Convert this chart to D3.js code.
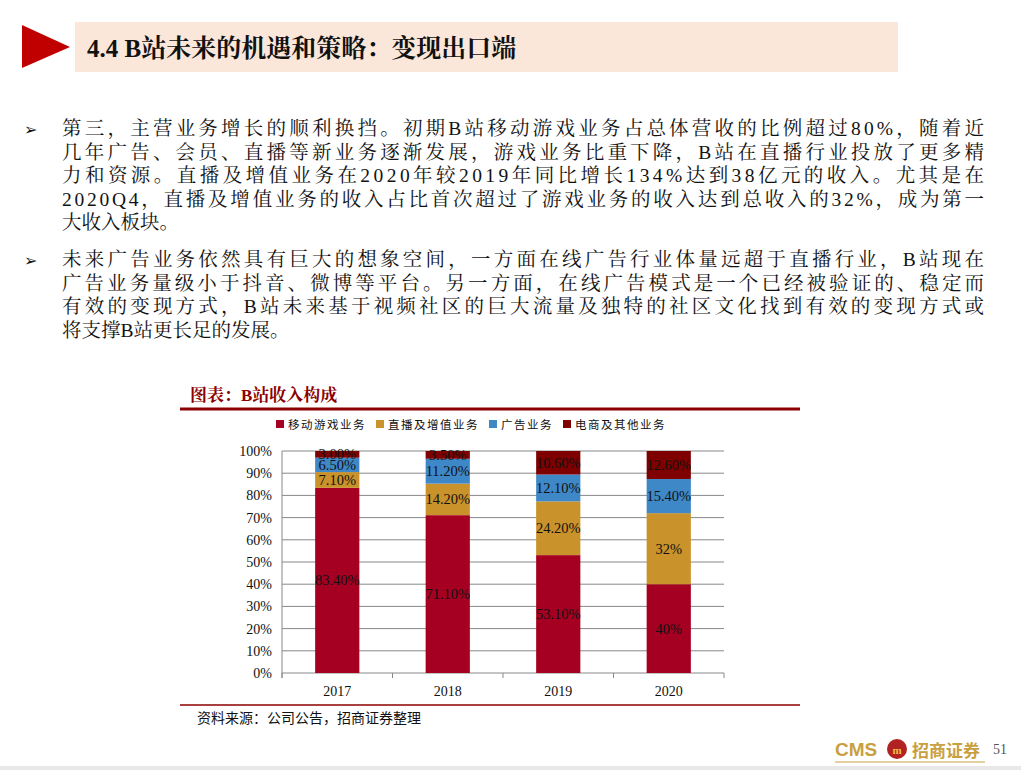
<!DOCTYPE html>
<html><head><meta charset="utf-8">
<script src="https://cdn.jsdelivr.net/npm/d3@7"></script>
<style>body{margin:0;background:#fff;}svg{display:block}</style>
</head><body>
<svg id="c" width="1021" height="770"></svg>
<script>
const years = ["2017","2018","2019","2020"];
const seriesNames = ["移动游戏业务","直播及增值业务","广告业务","电商及其他业务"];
const game = [83.4,71.1,53.1,40];
const live = [7.1,14.2,24.2,32];
const ads = [6.5,11.2,12.1,15.4];
const other = [3.0,3.5,10.6,12.6];
const labels = [["83.40%","71.10%","53.10%","40%"],["7.10%","14.20%","24.20%","32%"],["6.50%","11.20%","12.10%","15.40%"],["3.00%","3.50%","10.60%","12.60%"]];
const yTicks = [0,10,20,30,40,50,60,70,80,90,100];
const colors = ["#a50021","#c9922b","#3f88c8","#7f0000"];
const serif = "'Liberation Serif','Noto Serif CJK SC','Noto Sans CJK SC',serif";

const svg = d3.select("#c");
svg.append("rect").attr("x",75).attr("y",22).attr("width",823).attr("height",50).attr("fill","#fbe7da");
svg.append("path").attr("d","M22,25 L70,47 L22,68 Z").attr("fill","#c00000");
svg.append("text").attr("x",87).attr("y",57).attr("font-family",serif).attr("font-weight","bold").attr("font-size",25).attr("fill","#111").text("4.4 B站未来的机遇和策略：变现出口端");

const para1 = ["第三，主营业务增长的顺利换挡。初期B站移动游戏业务占总体营收的比例超过80%，随着近","几年广告、会员、直播等新业务逐渐发展，游戏业务比重下降，B站在直播行业投放了更多精","力和资源。直播及增值业务在2020年较2019年同比增长134%达到38亿元的收入。尤其是在","2020Q4，直播及增值业务的收入占比首次超过了游戏业务的收入达到总收入的32%，成为第一","大收入板块。"];
const para2 = ["未来广告业务依然具有巨大的想象空间，一方面在线广告行业体量远超于直播行业，B站现在","广告业务量级小于抖音、微博等平台。另一方面，在线广告模式是一个已经被验证的、稳定而","有效的变现方式，B站未来基于视频社区的巨大流量及独特的社区文化找到有效的变现方式或","将支撑B站更长足的发展。"];
function para(lines,y0){
  svg.append("text").attr("x",24).attr("y",y0).attr("font-size",16).attr("fill","#111").text("➢");
  lines.forEach((l,i)=>{const t=svg.append("text").attr("x",62).attr("y",y0+i*23.6).attr("font-family",serif).attr("font-size",19.5).attr("fill","#111").text(l); if(i<lines.length-1) t.attr("textLength",922);});
}
para(para1,135);
para(para2,266);

svg.append("text").attr("x",190).attr("y",401).attr("font-family",serif).attr("font-weight","bold").attr("font-size",17).attr("fill","#8b0000").text("图表：B站收入构成");
svg.append("line").attr("x1",180).attr("x2",800).attr("y1",409).attr("y2",409).attr("stroke","#8b0000").attr("stroke-width",3);

const lg = svg.append("g");
let lx=276;
seriesNames.forEach((n,i)=>{
  lg.append("rect").attr("x",lx).attr("y",420).attr("width",8).attr("height",8).attr("fill",colors[i]);
  const t=lg.append("text").attr("x",lx+12).attr("y",428.5).attr("font-size",11.5).attr("letter-spacing",1.5).attr("font-family","'Noto Sans CJK SC'").attr("fill","#111").text(n);
  lx += 12 + t.node().getComputedTextLength() + 10;
});

const x = d3.scaleBand().domain(years).range([282,724]).paddingInner(0.6).paddingOuter(0.3);
const y = d3.scaleLinear().domain([0,100]).range([673,451]);
yTicks.forEach(t=>{
  svg.append("line").attr("x1",282).attr("x2",724).attr("y1",y(t)).attr("y2",y(t)).attr("stroke","#888").attr("stroke-width",1);
  svg.append("text").attr("x",272).attr("y",y(t)+5).attr("text-anchor","end").attr("font-family",serif).attr("font-size",14).attr("fill","#111").text(t+"%");
});
svg.append("line").attr("x1",282).attr("x2",282).attr("y1",451).attr("y2",678).attr("stroke","#888");
const vals=[game,live,ads,other];
years.forEach((yr,i)=>{
  let base=0;
  vals.forEach((s,k)=>{
    const v=s[i];
    svg.append("rect").attr("x",x(yr)).attr("width",x.bandwidth()).attr("y",y(base+v)).attr("height",y(base)-y(base+v)).attr("fill",colors[k]);
    base+=v;
  });
  base=0;
  vals.forEach((s,k)=>{
    const v=s[i];
    svg.append("text").attr("x",x(yr)+x.bandwidth()/2).attr("y",y(base+v/2)+5).attr("text-anchor","middle").attr("font-family",serif).attr("font-size",14.5).attr("fill","#111").text(labels[k][i]);
    base+=v;
  });
  svg.append("text").attr("x",x(yr)+x.bandwidth()/2).attr("y",696).attr("text-anchor","middle").attr("font-family",serif).attr("font-size",14).attr("fill","#111").text(yr);
});
[0,1,2,3,4].forEach(j=>{const xx=282+j*110.5;svg.append("line").attr("x1",xx).attr("x2",xx).attr("y1",673).attr("y2",678).attr("stroke","#888");});

svg.append("line").attr("x1",180).attr("x2",800).attr("y1",705).attr("y2",705).attr("stroke","#8b0000").attr("stroke-width",1.5);
svg.append("text").attr("x",197).attr("y",723).attr("font-size",14).attr("font-family","'Noto Sans CJK SC'").attr("fill","#111").text("资料来源：公司公告，招商证券整理");

svg.append("text").attr("x",835).attr("y",756).attr("font-family","'Liberation Sans'").attr("font-weight","bold").attr("font-size",19).attr("fill","#c9a040").text("CMS");
svg.append("circle").attr("cx",897).attr("cy",749).attr("r",10).attr("fill","#b22222");
svg.append("text").attr("x",897).attr("y",754).attr("text-anchor","middle").attr("font-size",11).attr("font-weight","bold").attr("fill","#f0c040").text("m");
svg.append("text").attr("x",912).attr("y",757).attr("font-family","'Noto Sans CJK SC'").attr("font-weight","bold").attr("font-size",17).attr("fill","#c9a040").text("招商证券");
svg.append("line").attr("x1",835).attr("x2",985).attr("y1",762).attr("y2",762).attr("stroke","#c9a040");
svg.append("text").attr("x",993).attr("y",754).attr("font-family",serif).attr("font-size",14).attr("fill","#555").text("51");
svg.append("rect").attr("x",0).attr("y",766).attr("width",1021).attr("height",4).attr("fill","#e8e8e8");
</script>
</body></html>
